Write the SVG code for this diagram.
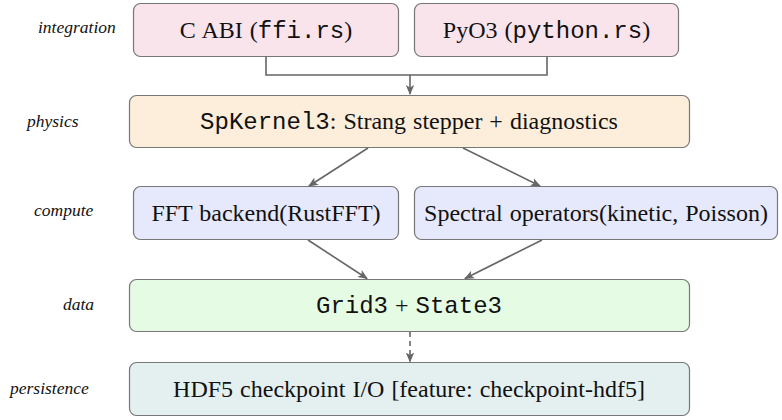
<svg xmlns="http://www.w3.org/2000/svg" width="782" height="420" viewBox="0 0 782 420">
<defs>
<marker id="ah" viewBox="0 0 10 10" refX="9" refY="5" markerWidth="10" markerHeight="10" markerUnits="userSpaceOnUse" orient="auto">
<path d="M0,0.8 L10,5 L0,9.2 L2.5,5 Z" fill="#666"/>
</marker>
</defs>
<style>
.box{stroke:#777;stroke-width:1.2}
.t{font-family:"Liberation Serif","Times New Roman",serif;font-size:24px;fill:#111;text-anchor:middle;word-spacing:1px}
.m{font-family:"Liberation Mono","Courier New",monospace;font-weight:normal}
.lab{font-family:"Liberation Serif","Times New Roman",serif;font-style:italic;font-size:17.5px;fill:#111}
.c{fill:none;stroke:#666;stroke-width:1.6}
</style>
<g id="labels">
<text class="lab" x="38" y="33">integration</text>
<text class="lab" x="27" y="127">physics</text>
<text class="lab" x="34" y="216">compute</text>
<text class="lab" x="63" y="310">data</text>
<text class="lab" x="10" y="394">persistence</text>
</g>
<g id="cabi">
<rect class="box" x="133.5" y="3.5" width="265" height="53" rx="7" fill="#f9e4ec"/>
<text class="t" x="266" y="37.5">C ABI (<tspan class="m">ffi.rs</tspan>)</text>
</g>
<g id="pyo3">
<rect class="box" x="414.5" y="3.5" width="264" height="53" rx="7" fill="#f9e4ec"/>
<text class="t" x="546.5" y="37.5">PyO3 (<tspan class="m">python.rs</tspan>)</text>
</g>
<g id="physics">
<rect class="box" x="129.5" y="95.5" width="560" height="52" rx="7" fill="#fdeedc"/>
<text class="t" x="409" y="129"><tspan class="m">SpKernel3</tspan>: Strang stepper + diagnostics</text>
</g>
<g id="fft">
<rect class="box" x="133.5" y="186.5" width="265" height="53" rx="7" fill="#e6e8fb"/>
<text class="t" x="266" y="220.5">FFT backend(RustFFT)</text>
</g>
<g id="spectral">
<rect class="box" x="414.5" y="186.5" width="363" height="53" rx="7" fill="#e6e8fb"/>
<text class="t" x="596" y="220.5">Spectral operators(kinetic, Poisson)</text>
</g>
<g id="data">
<rect class="box" x="129.5" y="279.5" width="560" height="52" rx="7" fill="#e6fbe4"/>
<text class="t" x="409" y="313"><tspan class="m">Grid3</tspan> + <tspan class="m">State3</tspan></text>
</g>
<g id="persistence">
<rect class="box" x="129.5" y="362.5" width="560" height="53" rx="7" fill="#e4f0f0"/>
<text class="t" x="409" y="396.5">HDF5 checkpoint I/O [feature: checkpoint-hdf5]</text>
</g>
<g id="connectors">
<path class="c" d="M266,56.5 V75 H547 V56.5"/>
<path class="c" d="M410,75 V94" marker-end="url(#ah)"/>
<path class="c" d="M368,148 L309,186" marker-end="url(#ah)"/>
<path class="c" d="M463,148 L540,186" marker-end="url(#ah)"/>
<path class="c" d="M308,240 L367,278.5" marker-end="url(#ah)"/>
<path class="c" d="M542,240 L465,278.5" marker-end="url(#ah)"/>
<path class="c" d="M410,332 V361.5" stroke-dasharray="5,4" marker-end="url(#ah)"/>
</g>
</svg>
